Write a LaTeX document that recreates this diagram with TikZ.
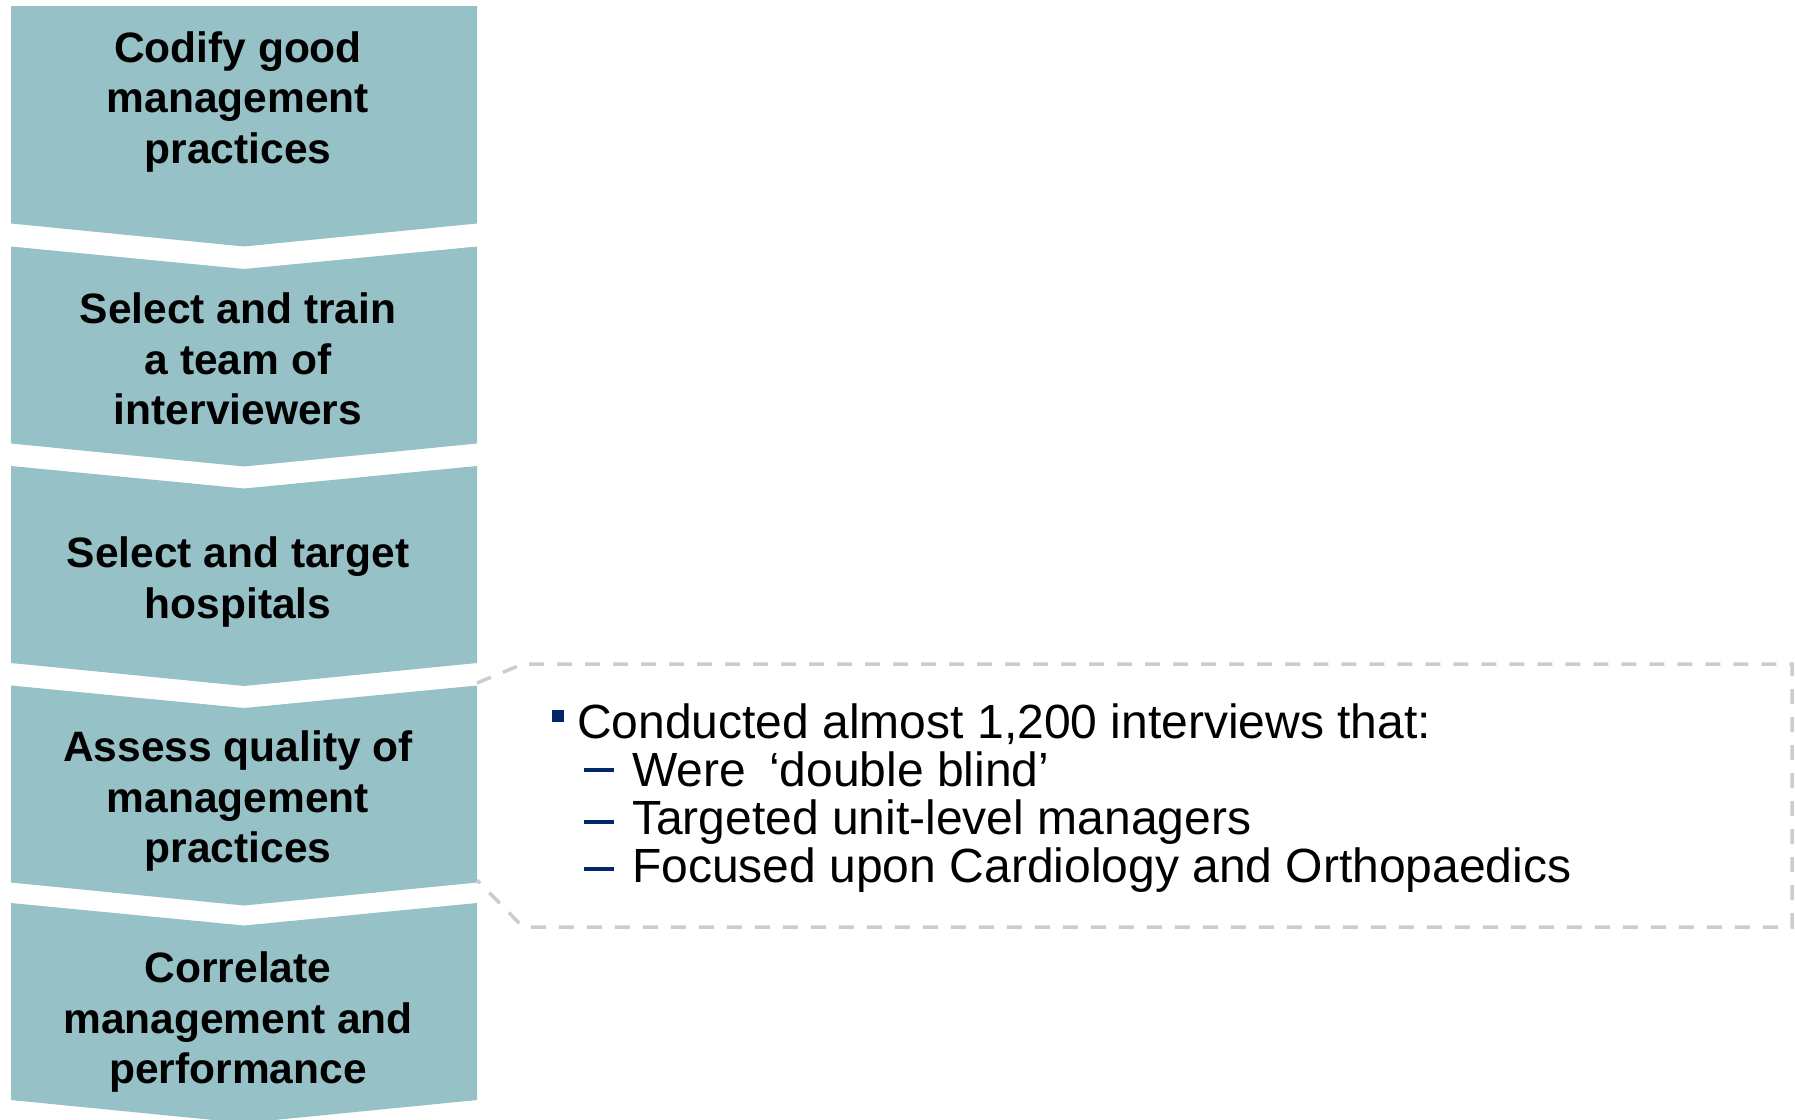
\documentclass[tikz,border=0pt]{standalone}
\usepackage{fontspec}
\setmainfont{Liberation Sans}
\definecolor{chev}{RGB}{150,193,198}
\definecolor{navy}{RGB}{0,40,104}
\definecolor{dashgray}{RGB}{204,204,204}
\tikzset{
 chevfill/.style={fill=chev, draw=none},
 chevtext/.style={font=\fontsize{42.5}{50.5}\selectfont\bfseries, align=center, text=black, inner sep=0pt},
 bodytext/.style={font=\fontsize{48}{56}\selectfont, anchor=base west, inner sep=0pt, text=black},
 callout/.style={draw=dashgray, line width=3.5pt, dash pattern=on 15pt off 13pt},
 bulletsq/.style={fill=navy, draw=none, minimum size=12pt, inner sep=0pt},
 subdash/.style={fill=navy, draw=none, minimum width=30pt, minimum height=4pt, inner sep=0pt},
}
\begin{document}
\begin{tikzpicture}[x=1pt,y=-1pt]
\useasboundingbox (0,0) rectangle (1795,1119);
\clip (0,0) rectangle (1795,1119);
% chevrons
\fill[chevfill] (11,6) -- (477,6) -- (477,223.5) -- (244,246.5) -- (11,223.5) -- cycle;
\foreach \t in {246.5,466,685.5,903}{
  \fill[chevfill] (11,\t) -- (244,\t+22.5) -- (477,\t) -- (477,\t+197) -- (244,\t+220) -- (11,\t+197) -- cycle;
}
% chevron texts
\node[chevtext] (s1) at (238,102) {Codify good\\management\\practices};
\node[chevtext] (s2) at (238,359) {Select and train\\a team of\\interviewers};
\node[chevtext] (s3) at (238,582) {Select and target\\hospitals};
\node[chevtext] (s4) at (238,801) {Assess quality of\\management\\practices};
\node[chevtext] (s5) at (238,1022) {Correlate\\management and\\performance};
% callout
\coordinate (k1) at (477,683);
\coordinate (k2) at (523,664);
\coordinate (k3) at (1792,664);
\coordinate (k4) at (1792,927);
\coordinate (k5) at (523,927);
\coordinate (k6) at (477,880);
\draw[callout] (k1) -- (k2) -- (k3) -- (k4) -- (k5) -- (k6);
% callout text
\node[bulletsq] (b0) at (558,715.5) {};
\node[bodytext] (t0) at (577,738) {Conducted almost 1,200 interviews that:};
\node[subdash] (d1) at (599,770) {};
\node[subdash] (d2) at (599,822) {};
\node[subdash] (d3) at (599,869) {};
\node[bodytext] (t1) at (632,786) {Were\hspace{23pt}‘double blind’};
\node[bodytext] (t2) at (632,834) {Targeted unit-level managers};
\node[bodytext] (t3) at (632,882) {Focused upon Cardiology and Orthopaedics};
\end{tikzpicture}
\end{document}
